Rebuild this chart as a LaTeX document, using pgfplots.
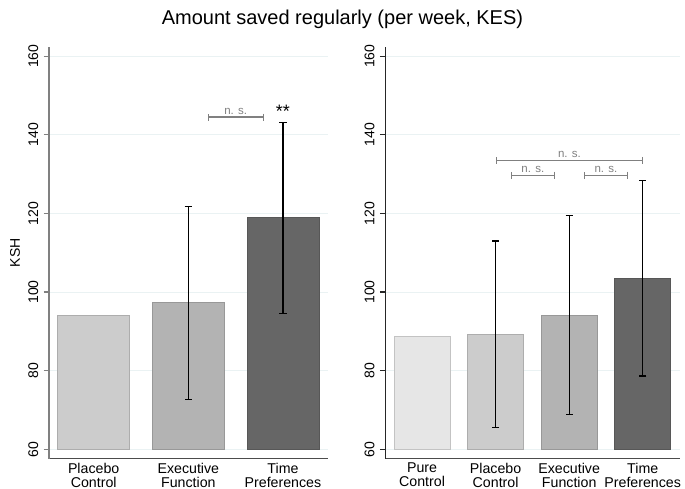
\documentclass[border=0pt]{standalone}
\usepackage{fontspec}
\setmainfont{Liberation Sans}
\usepackage{pgfplots}
\pgfplotsset{compat=1.18}
\usetikzlibrary{arrows.meta}
\definecolor{gridc}{HTML}{EAF2F3}
\definecolor{c1}{HTML}{E6E6E6}
\definecolor{c2}{HTML}{CCCCCC}
\definecolor{c3}{HTML}{B3B3B3}
\definecolor{c4}{HTML}{666666}
\definecolor{brk}{HTML}{808080}
\pgfplotsset{
  panel/.style={
    scale only axis, height=412pt,
    ymin=57.6, ymax=162.4,
    y coord trafo/.code={\pgfmathparse{##1-60}},
    y coord inv trafo/.code={\pgfmathparse{##1+60}},
    ytick={60,80,100,120,140,160},
    yticklabels={60,80,100,120,140,160},
    ymajorgrids, major grid style={gridc, line width=0.9pt},
    axis x line*=bottom, axis y line*=left,
    axis line style={-, line width=1.2pt},
    x axis line style={color=black!70},
    tick align=outside, major tick length=5.5pt,
    ytick style={line width=1.2pt},
    xtick style={draw=none},
    xtick={0,1,2,3},
    /pgf/number format/assume math mode=true,
    yticklabel style={rotate=90, anchor=south, font=\fontsize{14}{15}\selectfont},
    yticklabel shift=1.8pt,
    xticklabel style={align=center, anchor=north, font=\fontsize{14.2}{13.6}\selectfont},
    xticklabel shift=-4.6pt,
    clip=false,
  },
  bar/.style={ybar, bar width=0.76, bar shift=0pt, fill=#1, draw=#1!85!black, line width=0.6pt},
  eb/.style={error bars/.cd, y dir=both, y explicit,
    error bar style={black, line width=1.3pt},
    error mark options={black, rotate=90, mark size=3.6pt, line width=1.3pt}},
}
\begin{document}
\begin{tikzpicture}
\path[use as bounding box] (0,0) rectangle (685pt,489pt);
\node[anchor=base, font=\fontsize{20}{20}\selectfont] at (342.5pt,464pt) {Amount saved regularly (per week, KES)};
% Left panel
\begin{axis}[panel, at={(49pt,30.3pt)}, anchor=south west, width=279.3pt,
  xmin=-0.472, xmax=2.479,
  y axis line style={color=black!50}, ytick style={color=black!50},
  xticklabels={Placebo\\Control, Executive\\Function, Time\\Preferences},
  ylabel={KSH}, ylabel style={at={(axis description cs:-0.1217,0.5)}, anchor=center, rotate=0, font=\fontsize{14}{15}\selectfont}]
\addplot[bar=c2] coordinates {(0,94.0)};
\addplot[bar=c3, eb] coordinates {(1,97.3) += (0,24.4) -= (0,24.7)};
\addplot[bar=c4, eb] coordinates {(2,118.9) += (0,24.2) -= (0,24.3)};
\draw[brk, line width=1.3pt, {Bar[width=7pt]}-{Bar[width=7pt]}] (axis cs:1.204,144.5) -- (axis cs:1.798,144.5)
  node[midway, anchor=base, yshift=2.5pt, font=\fontsize{11.5}{11.5}\selectfont, text=brk] {n. s.};
\node[anchor=base, font=\fontsize{18}{18}\selectfont] at (axis cs:2,144.4) {**};
\end{axis}
% Right panel
\begin{axis}[panel, at={(385.3pt,30.3pt)}, anchor=south west, width=294.7pt,
  xmin=-0.5, xmax=3.507,
  y axis line style={color=black!85}, ytick style={color=black!85},
  xticklabels={Pure\\Control, Placebo\\Control, Executive\\Function, Time\\Preferences}]
\addplot[bar=c1] coordinates {(0,88.8)};
\addplot[bar=c2, eb] coordinates {(1,89.3) += (0,23.7) -= (0,23.7)};
\addplot[bar=c3, eb] coordinates {(2,94.2) += (0,25.3) -= (0,25.3)};
\addplot[bar=c4, eb] coordinates {(3,103.5) += (0,24.8) -= (0,24.85)};
\draw[brk, line width=1.3pt, {Bar[width=7pt]}-{Bar[width=7pt]}] (axis cs:1.004,133.5) -- (axis cs:3.004,133.5)
  node[midway, anchor=base, yshift=3pt, font=\fontsize{11.5}{11.5}\selectfont, text=brk] {n. s.};
\draw[brk, line width=1.3pt, {Bar[width=7pt]}-{Bar[width=7pt]}] (axis cs:1.204,129.7) -- (axis cs:1.807,129.7)
  node[midway, anchor=base, yshift=3pt, font=\fontsize{11.5}{11.5}\selectfont, text=brk] {n. s.};
\draw[brk, line width=1.3pt, {Bar[width=7pt]}-{Bar[width=7pt]}] (axis cs:2.201,129.7) -- (axis cs:2.8,129.7)
  node[midway, anchor=base, yshift=3pt, font=\fontsize{11.5}{11.5}\selectfont, text=brk] {n. s.};
\end{axis}
\end{tikzpicture}
\end{document}
